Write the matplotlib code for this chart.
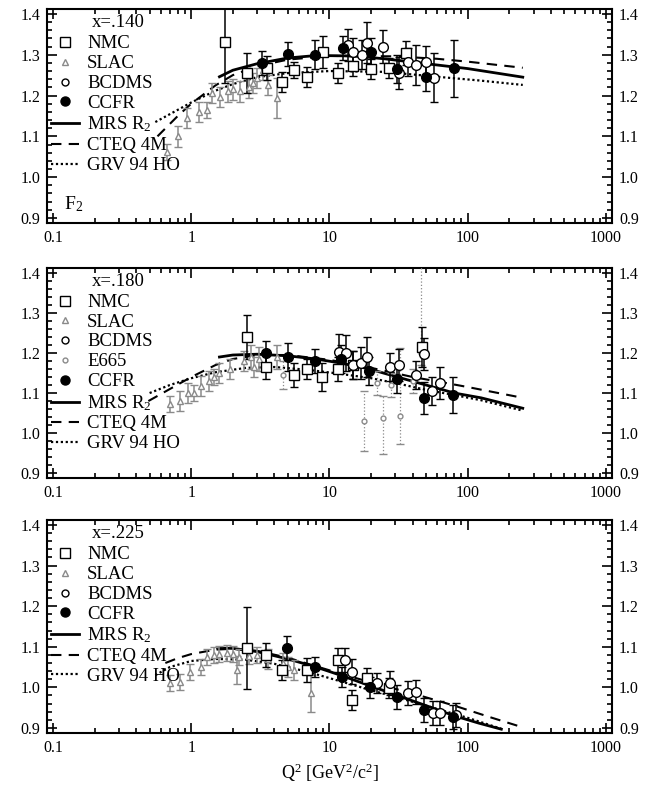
import matplotlib
matplotlib.use("Agg")
import matplotlib.pyplot as plt
from matplotlib.lines import Line2D
from matplotlib.ticker import FixedLocator, FuncFormatter, LogLocator, MultipleLocator

# ---------------- x = .140 ----------------
nmc1_q = [1.76, 2.55, 3.55, 4.57, 5.5, 6.9, 9.05, 11.5, 14.9, 19.8, 26.8, 35.6]
nmc1_f = [1.33, 1.255, 1.268, 1.233, 1.262, 1.246, 1.307, 1.255, 1.273, 1.265, 1.268, 1.304]
nmc1_e = [0.10, 0.05, 0.03, 0.025, 0.02, 0.025, 0.04, 0.025, 0.025, 0.025, 0.025, 0.03]
slac1_q = [0.67, 0.8, 0.93, 1.13, 1.3, 1.42, 1.62, 1.83, 2.0, 2.25, 2.6, 2.8, 3.0, 3.3, 3.6, 4.2]
slac1_f = [1.062, 1.10, 1.145, 1.16, 1.165, 1.206, 1.197, 1.21, 1.215, 1.21, 1.22, 1.23,
           1.243, 1.263, 1.226, 1.194]
slac1_e = [0.02, 0.025, 0.025, 0.025, 0.02, 0.025, 0.025, 0.025, 0.025, 0.025, 0.025, 0.025,
           0.025, 0.025, 0.025, 0.05]
bcdms1_q = [13.5, 14.9, 17.3, 18.8, 24.2, 31.6, 36.7, 42, 49.6, 56.8]
bcdms1_f = [1.324, 1.307, 1.30, 1.329, 1.32, 1.255, 1.282, 1.275, 1.282, 1.243]
bcdms1_e = [0.04, 0.035, 0.035, 0.05, 0.04, 0.04, 0.035, 0.05, 0.04, 0.06]
ccfr1_q = [3.27, 4.97, 7.9, 12.6, 19.8, 31, 49.6, 79]
ccfr1_f = [1.28, 1.302, 1.30, 1.317, 1.307, 1.265, 1.246, 1.267]
ccfr1_e = [0.03, 0.03, 0.035, 0.03, 0.035, 0.035, 0.035, 0.07]

mrs1_q = [1.6, 2, 3, 5, 8, 15, 25, 50, 100, 250]
mrs1_f = [1.246, 1.262, 1.278, 1.292, 1.298, 1.297, 1.29, 1.278, 1.266, 1.245]
cteq1_q = [0.57, 0.8, 1, 1.5, 2, 3, 5, 10, 30, 60, 100, 250]
cteq1_f = [1.10, 1.15, 1.18, 1.225, 1.25, 1.272, 1.288, 1.297, 1.296, 1.29, 1.283, 1.268]
grv1_q = [0.55, 0.8, 1, 1.5, 2, 3, 5, 10, 25, 60, 120, 250]
grv1_f = [1.135, 1.165, 1.183, 1.212, 1.228, 1.245, 1.255, 1.26, 1.258, 1.246, 1.237, 1.226]

# ---------------- x = .180 ----------------
nmc2_q = [2.55, 3.5, 5.5, 6.9, 8.9, 11.5, 14.9, 47]
nmc2_f = [1.24, 1.166, 1.144, 1.161, 1.141, 1.161, 1.169, 1.214]
nmc2_e = [0.055, 0.03, 0.03, 0.025, 0.035, 0.03, 0.035, 0.05]
slac2_q = [0.70, 0.83, 0.94, 1.05, 1.17, 1.35, 1.45, 1.6, 1.92, 2.4, 2.7, 2.85, 3.1, 4.2]
slac2_f = [1.073, 1.08, 1.10, 1.10, 1.118, 1.13, 1.14, 1.15, 1.16, 1.18, 1.19, 1.164, 1.186, 1.19]
slac2_e = [0.02, 0.025, 0.025, 0.02, 0.025, 0.025, 0.02, 0.025, 0.025, 0.025, 0.03, 0.025,
           0.03, 0.03]
bcdms2_q = [11.7, 13.1, 14.9, 16.8, 18.8, 27.6, 31.6, 42, 48.5, 55.5, 63]
bcdms2_f = [1.202, 1.199, 1.169, 1.174, 1.189, 1.164, 1.169, 1.144, 1.198, 1.106, 1.124]
bcdms2_e = [0.045, 0.045, 0.035, 0.04, 0.05, 0.035, 0.04, 0.035, 0.04, 0.035, 0.04]
e665_q = [4.6, 17.8, 22, 24.2, 28, 32.6, 40, 45.6]
e665_f = [1.144, 1.03, 1.125, 1.038, 1.12, 1.043, 1.13, 1.20]
e665_lo = [0.035, 0.075, 0.03, 0.09, 0.03, 0.07, 0.03, 0.03]
e665_hi = [0.035, 0.075, 0.03, 0.055, 0.03, 0.17, 0.03, 0.25]
ccfr2_q = [3.5, 5.0, 7.8, 12.2, 19.3, 31, 48.5, 78]
ccfr2_f = [1.199, 1.189, 1.18, 1.186, 1.156, 1.136, 1.088, 1.096]
ccfr2_e = [0.03, 0.035, 0.03, 0.035, 0.035, 0.035, 0.04, 0.045]

mrs2_q = [1.6, 2, 3, 5, 8, 12, 19, 31, 50, 80, 125, 250]
mrs2_f = [1.19, 1.195, 1.197, 1.193, 1.185, 1.175, 1.161, 1.14, 1.12, 1.10, 1.088, 1.062]
cteq2_q = [0.49, 0.7, 1, 1.5, 2, 3, 5, 10, 20, 40, 65, 100, 250]
cteq2_f = [1.08, 1.11, 1.14, 1.17, 1.185, 1.195, 1.195, 1.183, 1.163, 1.14, 1.127, 1.115, 1.088]
grv2_q = [0.5, 0.7, 1, 1.5, 2.5, 4, 7, 12, 20, 31, 50, 80, 125, 250]
grv2_f = [1.10, 1.12, 1.137, 1.152, 1.163, 1.165, 1.158, 1.148, 1.137, 1.124, 1.108, 1.095,
          1.082, 1.056]

# ---------------- x = .225 ----------------
nmc3_q = [2.55, 3.5, 4.5, 6.9, 11.5, 14.6, 18.6, 27]
nmc3_f = [1.097, 1.08, 1.043, 1.043, 1.067, 0.969, 1.023, 0.998]
nmc3_e = [0.10, 0.03, 0.025, 0.03, 0.03, 0.025, 0.025, 0.025]
slac3_q = [0.70, 0.83, 0.98, 1.17, 1.3, 1.45, 1.6, 1.8, 2.0, 2.15, 2.2, 2.6, 3.0, 3.6, 4.6,
           5.0, 5.5, 7.3]
slac3_f = [1.01, 1.013, 1.038, 1.05, 1.075, 1.08, 1.083, 1.085, 1.083, 1.043, 1.075, 1.077,
           1.08, 1.07, 1.06, 1.05, 1.043, 0.985]
slac3_e = [0.02, 0.02, 0.02, 0.02, 0.02, 0.02, 0.02, 0.02, 0.02, 0.035, 0.02, 0.02, 0.02,
           0.025, 0.025, 0.025, 0.025, 0.045]
bcdms3_q = [13.0, 14.5, 22, 27.5, 36.7, 42, 55.7, 63, 82]
bcdms3_f = [1.067, 1.039, 1.011, 1.011, 0.986, 0.989, 0.937, 0.937, 0.932]
bcdms3_e = [0.03, 0.03, 0.025, 0.03, 0.03, 0.03, 0.03, 0.03, 0.03]
ccfr3_q = [4.9, 7.9, 12.3, 19.6, 31, 48, 78]
ccfr3_f = [1.097, 1.05, 1.025, 1.0, 0.977, 0.944, 0.927]
ccfr3_e = [0.03, 0.025, 0.025, 0.025, 0.03, 0.03, 0.03]

mrs3_q = [1.55, 2, 3, 5, 8, 12, 20, 31, 50, 80, 120, 175]
mrs3_f = [1.097, 1.096, 1.088, 1.07, 1.05, 1.03, 1.003, 0.98, 0.955, 0.93, 0.912, 0.897]
cteq3_q = [0.65, 0.8, 1, 1.5, 2, 3, 5, 10, 20, 40, 80, 150, 242]
cteq3_f = [1.06, 1.072, 1.082, 1.093, 1.095, 1.09, 1.073, 1.042, 1.012, 0.985, 0.955, 0.925, 0.903]
grv3_q = [0.55, 0.7, 1, 1.5, 2.5, 4, 7, 12, 20, 35, 60, 100, 175]
grv3_f = [1.03, 1.05, 1.065, 1.07, 1.068, 1.058, 1.038, 1.015, 0.993, 0.97, 0.947, 0.925, 0.898]

GRAY = '#8a8a8a'


def errs(ax, q, f, e, marker, mfc, color, ms, dotted=False):
    eb = ax.errorbar(q, f, yerr=e, fmt=marker, mfc=mfc, mec=color, ms=ms, mew=1.0,
                     ecolor=color, elinewidth=1.1 if not dotted else 0.9,
                     capsize=3, capthick=1.1, zorder=4)
    if dotted:
        eb[2][0].set_linestyle(':')
    return eb


def panel(ax, xlabel, curves, nmc, slac, bcdms, ccfr, e665=None):
    mq, mf, cq, cf, gq, gf = curves
    ax.plot(mq, mf, color='black', lw=2.0, zorder=3)
    ax.plot(cq, cf, color='black', lw=1.5, ls=(0, (5, 3.5)), zorder=3)
    ax.plot(gq, gf, color='black', lw=1.6, ls=(0, (1, 1.2)), zorder=3)

    errs(ax, *slac, '^', 'white', GRAY, 4.5)
    if e665 is not None:
        q, f, lo, hi = e665
        errs(ax, q, f, [lo, hi], 'o', 'white', GRAY, 3.5, dotted=True)
    errs(ax, *nmc, 's', 'white', 'black', 6.5)
    errs(ax, *bcdms, 'o', 'white', 'black', 7)
    errs(ax, *ccfr, 'o', 'black', 'black', 7)

    ax.set_xscale('log')
    ax.set_xlim(0.0905, 1105)
    ax.set_ylim(0.8877, 1.4123)
    ax.xaxis.set_major_locator(FixedLocator([0.1, 1, 10, 100, 1000]))
    ax.xaxis.set_major_formatter(FuncFormatter(lambda v, p: '%g' % v))
    ax.xaxis.set_minor_locator(LogLocator(base=10, subs=range(2, 10), numticks=20))
    ax.yaxis.set_major_locator(MultipleLocator(0.1))
    ax.yaxis.set_minor_locator(MultipleLocator(0.02))
    ax.yaxis.set_major_formatter(FuncFormatter(lambda v, p: '%.1f' % v))
    ax.tick_params(which='both', direction='in', top=True, right=True, labelright=True,
                   width=1.2)
    ax.tick_params(which='major', length=7, pad=5)
    ax.tick_params(which='minor', length=3.5)
    for s in ax.spines.values():
        s.set_linewidth(1.5)

    ax.text(0.08, 0.935, xlabel, transform=ax.transAxes, fontsize=13.5, va='center')

    handles = [Line2D([], [], ls='none', marker='s', mfc='white', mec='black', ms=6.5, label='NMC'),
               Line2D([], [], ls='none', marker='^', mfc='white', mec=GRAY, ms=4.5, label='SLAC'),
               Line2D([], [], ls='none', marker='o', mfc='white', mec='black', ms=5, label='BCDMS')]
    if e665 is not None:
        handles.append(Line2D([], [], ls='none', marker='o', mfc='white', mec=GRAY, ms=3.5,
                              label='E665'))
    handles += [Line2D([], [], ls='none', marker='o', mfc='black', mec='black', ms=6.5, label='CCFR'),
                Line2D([], [], color='black', lw=2.0, label='MRS R$_2$'),
                Line2D([], [], color='black', lw=1.5, ls=(0, (5, 3.5)), label='CTEQ 4M'),
                Line2D([], [], color='black', lw=1.6, ls=(0, (1, 1.2)), label='GRV 94 HO')]
    ax.legend(handles=handles, loc='upper left', bbox_to_anchor=(0.008, 0.877), frameon=False,
              fontsize=13.5, borderpad=0, borderaxespad=0, handlelength=1.45, handletextpad=0.45,
              labelspacing=0.15, handleheight=0.6)


def main():
    plt.rcParams.update({
        'font.family': 'serif',
        'font.serif': ['Liberation Serif', 'DejaVu Serif'],
        'mathtext.fontset': 'custom',
        'mathtext.rm': 'Liberation Serif',
        'mathtext.it': 'Liberation Serif:italic',
        'font.size': 11.5,
    })
    fig = plt.figure(figsize=(6.57, 7.93), dpi=100)
    left, width = 0.0715, 0.860
    ax1 = fig.add_axes([left, 0.7188, width, 0.270])
    ax2 = fig.add_axes([left, 0.3972, width, 0.2648])
    ax3 = fig.add_axes([left, 0.0757, width, 0.2686])

    panel(ax1, 'x=.140', (mrs1_q, mrs1_f, cteq1_q, cteq1_f, grv1_q, grv1_f),
          (nmc1_q, nmc1_f, nmc1_e), (slac1_q, slac1_f, slac1_e),
          (bcdms1_q, bcdms1_f, bcdms1_e), (ccfr1_q, ccfr1_f, ccfr1_e))
    ax1.text(0.03, 0.09, 'F$_2$', transform=ax1.transAxes, fontsize=14, va='center')

    panel(ax2, 'x=.180', (mrs2_q, mrs2_f, cteq2_q, cteq2_f, grv2_q, grv2_f),
          (nmc2_q, nmc2_f, nmc2_e), (slac2_q, slac2_f, slac2_e),
          (bcdms2_q, bcdms2_f, bcdms2_e), (ccfr2_q, ccfr2_f, ccfr2_e),
          e665=(e665_q, e665_f, e665_lo, e665_hi))

    panel(ax3, 'x=.225', (mrs3_q, mrs3_f, cteq3_q, cteq3_f, grv3_q, grv3_f),
          (nmc3_q, nmc3_f, nmc3_e), (slac3_q, slac3_f, slac3_e),
          (bcdms3_q, bcdms3_f, bcdms3_e), (ccfr3_q, ccfr3_f, ccfr3_e))
    ax3.set_xlabel('Q$^2$ [GeV$^2$/c$^2$]', fontsize=13, labelpad=4)

    fig.savefig('out.png', dpi=100)


if __name__ == '__main__':
    main()
